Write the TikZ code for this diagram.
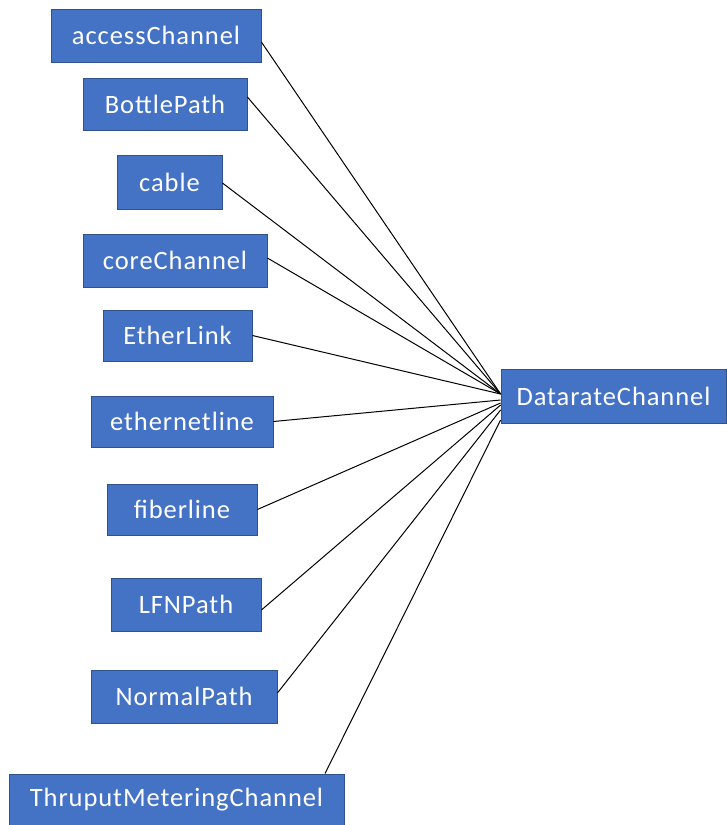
\documentclass[tikz,border=0pt]{standalone}
\usepackage{fontspec}
\setmainfont{Carlito}[LetterSpace=3.5]
\definecolor{boxfill}{HTML}{4472C4}
\definecolor{boxline}{HTML}{2F528F}
\begin{document}
\begin{tikzpicture}[x=1pt,y=-1pt,
  cls/.style={rectangle, fill=boxfill, draw=boxline, line width=0.8pt,
    text=white, inner sep=0pt, font=\fontsize{26.5}{30}\selectfont},
  link/.style={black, line width=1pt}]
\useasboundingbox (0,0) rectangle (726,825);

% source classes
\node[cls, minimum width=210, minimum height=53] (acc)   at (156,35.5)  {accessChannel};
\node[cls, minimum width=164, minimum height=52] (bot)   at (165,104)   {BottlePath};
\node[cls, minimum width=105, minimum height=54] (cab)   at (169.5,182) {cable};
\node[cls, minimum width=184, minimum height=53] (core)  at (175,260.5) {coreChannel};
\node[cls, minimum width=149, minimum height=51] (eth)   at (177.5,335.5) {EtherLink};
\node[cls, minimum width=182, minimum height=51] (ethl)  at (182,421.5) {ethernetline};
\node[cls, minimum width=150, minimum height=51] (fib)   at (182,509.5) {fiberline};
\node[cls, minimum width=150, minimum height=53] (lfn)   at (186,604.5) {LFNPath};
\node[cls, minimum width=186, minimum height=53] (norm)  at (184,696.5) {NormalPath};
\node[cls, minimum width=335, minimum height=52] (thru)  at (176.5,800) {ThruputMeteringChannel};

% target class
\node[cls, minimum width=225, minimum height=54] (dc) at (613.5,396) {DatarateChannel};

% connectors
\draw[link] ([yshift=-6.5pt]acc.east)  -- ([yshift=2pt]dc.west);
\draw[link] ([yshift=7pt]bot.east)     -- ([yshift=2pt]dc.west);
\draw[link] ([yshift=-1pt]cab.east)    -- ([yshift=2pt]dc.west);
\draw[link] ([yshift=2.5pt]core.east)  -- ([yshift=2pt]dc.west);
\draw[link] (eth.east)                 -- ([yshift=2pt]dc.west);
\draw[link] (ethl.east)                -- ([yshift=-4pt]dc.west);
\draw[link] (fib.east)                 -- ([yshift=-7pt]dc.west);
\draw[link] ([yshift=-5.5pt]lfn.east)  -- ([yshift=-9pt]dc.west);
\draw[link] ([yshift=3.5pt]norm.east)  -- ([yshift=-14pt]dc.west);
\draw[link] ([xshift=148.5pt]thru.north) -- ([yshift=-24pt]dc.west);
\end{tikzpicture}
\end{document}
